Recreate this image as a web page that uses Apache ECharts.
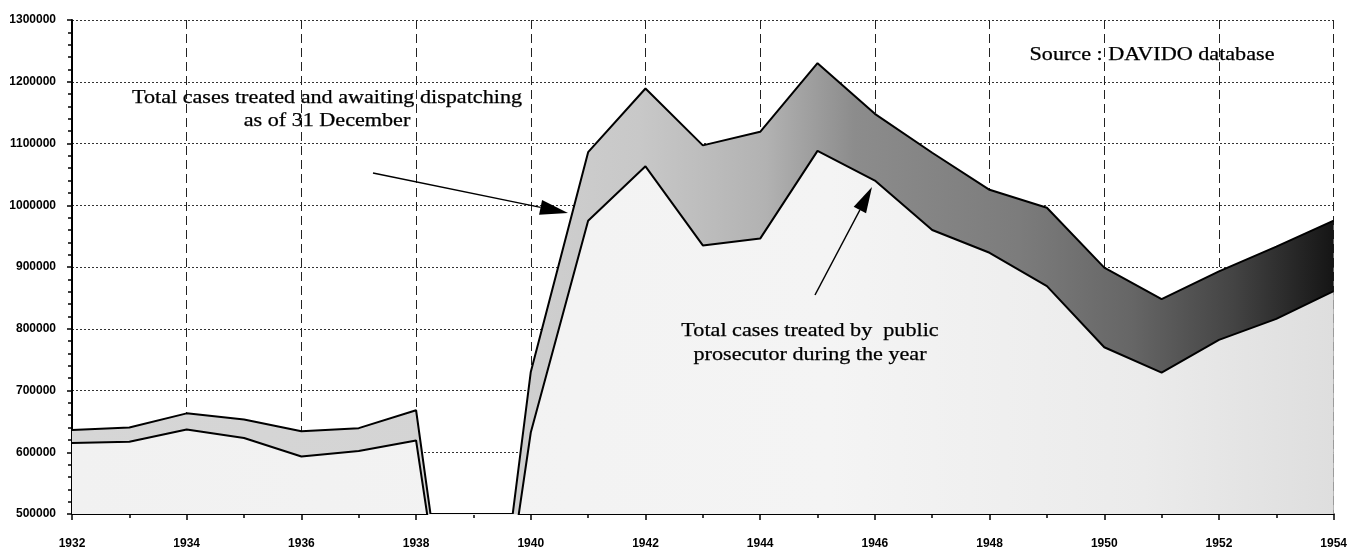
<!DOCTYPE html>
<html>
<head>
<meta charset="utf-8">
<script src="https://cdn.jsdelivr.net/npm/echarts@6/dist/echarts.min.js"></script>
<style>
  html, body { margin: 0; padding: 0; background: #ffffff; }
  #chart { width: 1350px; height: 555px; }
</style>
</head>
<body>
<div id="chart"></div>
<script>
// ---- Data ----
const years = [1932, 1933, 1934, 1935, 1936, 1937, 1938, 1939, 1940, 1941, 1942, 1943,
               1944, 1945, 1946, 1947, 1948, 1949, 1950, 1951, 1952, 1953, 1954];
// Total cases treated and awaiting dispatching as of 31 December (1939: no data, plotted as 0)
const totalWithPending = [636000, 640000, 663000, 653000, 634000, 639000, 668000, 0, 730000, 1086000, 1189000, 1097000,
                          1119000, 1230000, 1148000, 1085000, 1025000, 996000, 899000, 848000, 893000, 933000, 975000];
// Total cases treated by public prosecutor during the year (1939: no data, plotted as 0)
const treatedDuringYear = [615000, 617000, 637000, 623000, 593000, 602000, 619000, 0, 632000, 975000, 1063000, 935000,
                           946000, 1088000, 1040000, 960000, 923000, 869000, 770000, 729000, 782000, 816000, 861000];
const yTicks = [500000, 600000, 700000, 800000, 900000, 1000000, 1100000, 1200000, 1300000];
const annotation1 = ['Total cases treated and awaiting dispatching', 'as of 31 December'];
const annotation2 = ['Total cases treated by  public', 'prosecutor during the year'];
const sourceNote = 'Source : DAVIDO database';

const upperPairs = years.map((y, i) => [y, totalWithPending[i]]);
const lowerPairs = years.map((y, i) => [y, treatedDuringYear[i]]);

const chart = echarts.init(document.getElementById('chart'), null, { renderer: 'canvas' });

const serifFont = '18px "Liberation Serif", "Times New Roman", serif';
const stretch = 1.23;

function textEl(str, x, y) {
  return {
    type: 'text', x: x, y: y, scaleX: stretch, scaleY: 1, z: 100,
    style: { text: str, font: serifFont, fill: '#000', textAlign: 'center', textVerticalAlign: 'middle',
             stroke: '#000', lineWidth: 0.25 }
  };
}
function arrowEls(x1, y1, x2, y2, headLen, headW) {
  const dx = x2 - x1, dy = y2 - y1, L = Math.sqrt(dx * dx + dy * dy);
  const ux = dx / L, uy = dy / L;
  const bx = x2 - ux * headLen, by = y2 - uy * headLen;
  const px = -uy * headW / 2, py = ux * headW / 2;
  return [
    { type: 'line', z: 100, shape: { x1: x1, y1: y1, x2: bx, y2: by }, style: { stroke: '#000', lineWidth: 1.5 } },
    { type: 'polygon', z: 100, shape: { points: [[x2, y2], [bx + px, by + py], [bx - px, by - py]] }, style: { fill: '#000' } }
  ];
}

const graphics = [
  textEl(annotation1[0], 327, 98),
  textEl(annotation1[1], 327, 121),
  textEl(annotation2[0], 810, 331),
  textEl(annotation2[1], 810, 355),
  textEl(sourceNote, 1152, 55)
].concat(arrowEls(373, 173, 568, 213, 28, 15))
 .concat(arrowEls(815, 295, 872, 187, 26, 14));

const option = {
  animation: false,
  backgroundColor: '#ffffff',
  grid: { left: 72, right: 13, top: 20, bottom: 41, containLabel: false },
  xAxis: {
    type: 'value', min: 1932, max: 1954, interval: 2,
    axisLine: { show: true, lineStyle: { color: '#000', width: 2 } },
    axisTick: { show: true, length: 6, lineStyle: { color: '#000', width: 1.5 } },
    minorTick: { show: true, splitNumber: 2, length: 4, lineStyle: { color: '#000', width: 1.5 } },
    axisLabel: { margin: 24, color: '#000', fontSize: 12, fontWeight: 'bold',
                 fontFamily: '"Liberation Sans", Arial, sans-serif', formatter: v => String(v) },
    splitLine: { show: true, lineStyle: { color: '#222', width: 1, type: [9, 5] } }
  },
  yAxis: {
    type: 'value', min: yTicks[0], max: yTicks[yTicks.length - 1], interval: 100000,
    axisLine: { show: true, lineStyle: { color: '#000', width: 2 } },
    axisTick: { show: true, length: 5, lineStyle: { color: '#000', width: 1.5 } },
    minorTick: { show: true, splitNumber: 5, length: 4, lineStyle: { color: '#000', width: 1.5 } },
    axisLabel: { margin: 16, color: '#000', fontSize: 12, fontWeight: 'bold',
                 fontFamily: '"Liberation Sans", Arial, sans-serif', formatter: v => String(v) },
    splitLine: { show: true, lineStyle: { color: '#333', width: 1, type: [2, 2] } }
  },
  series: [
    {
      name: 'Total cases treated and awaiting dispatching as of 31 December',
      type: 'line', data: upperPairs, symbol: 'none', z: 3, clip: true,
      lineStyle: { color: '#000', width: 2 },
      areaStyle: {
        opacity: 1,
        color: new echarts.graphic.LinearGradient(0, 0, 1, 0, [
          { offset: 0.00, color: '#d6d6d6' },
          { offset: 0.30, color: '#d4d4d4' },
          { offset: 0.45, color: '#c8c8c8' },
          { offset: 0.55, color: '#b2b2b2' },
          { offset: 0.62, color: '#8c8c8c' },
          { offset: 0.75, color: '#7c7c7c' },
          { offset: 0.84, color: '#666666' },
          { offset: 0.92, color: '#444444' },
          { offset: 1.00, color: '#151515' }
        ])
      }
    },
    {
      name: 'Total cases treated by public prosecutor during the year',
      type: 'line', data: lowerPairs, symbol: 'none', z: 4, clip: true,
      lineStyle: { color: '#000', width: 2 },
      areaStyle: {
        opacity: 1,
        color: new echarts.graphic.LinearGradient(0, 0, 1, 0, [
          { offset: 0.00, color: '#f1f1f1' },
          { offset: 0.60, color: '#f4f4f4' },
          { offset: 0.85, color: '#ebebeb' },
          { offset: 1.00, color: '#dedede' }
        ])
      }
    }
  ],
  graphic: graphics
};

chart.setOption(option);
</script>
</body>
</html>
